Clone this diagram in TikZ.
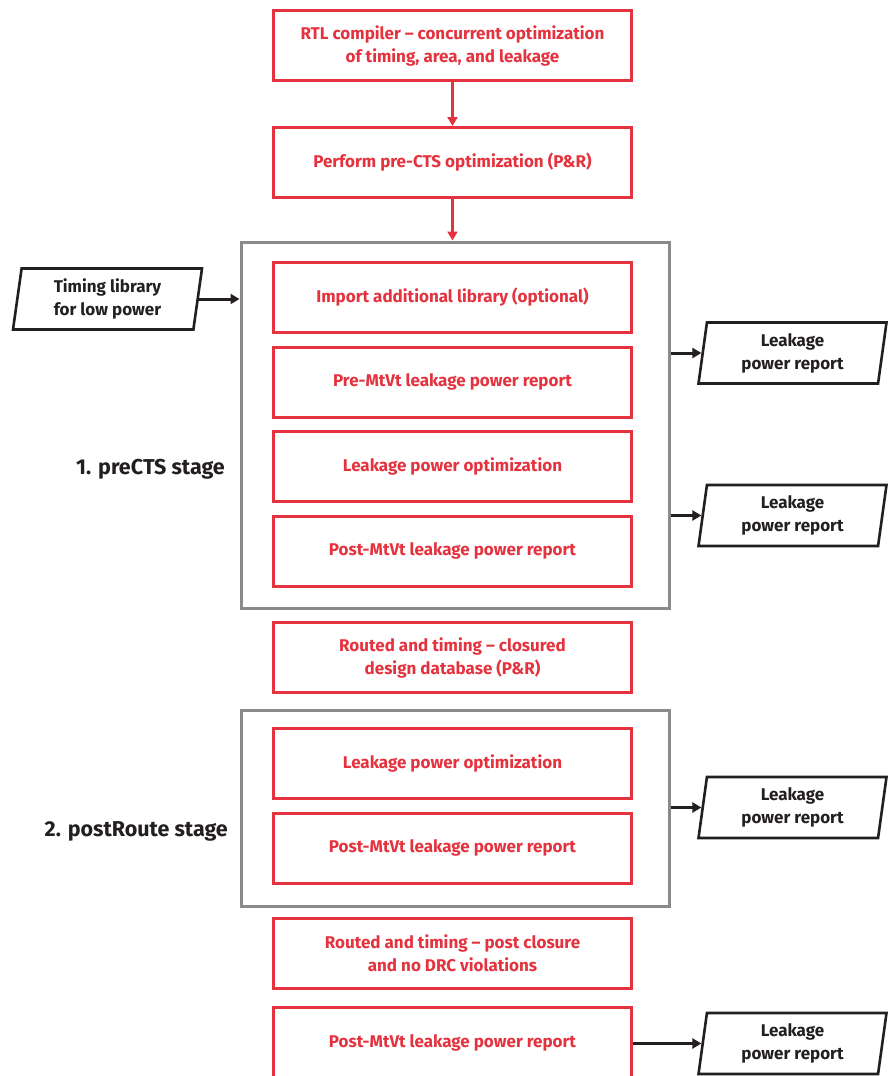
\documentclass[tikz,border=0pt]{standalone}
\usepackage{fontspec}
\setmainfont{Fira Sans}
\usetikzlibrary{arrows.meta,shapes.geometric}
\definecolor{fred}{RGB}{228,50,62}
\definecolor{fgray}{RGB}{138,138,140}
\definecolor{fdark}{RGB}{35,31,32}
\tikzset{
  redbox/.style={draw=fred,line width=3pt,minimum width=358pt,minimum height=70pt,
    text=fred,font=\fontsize{17}{23}\selectfont\bfseries,align=center,inner sep=0pt},
  graybox/.style={draw=fgray,line width=3pt},
  pgram/.style={draw=fdark,line width=2.6pt,shape=trapezium,trapezium left angle=78,
    trapezium right angle=102,trapezium stretches body,minimum width=188pt,minimum height=61pt,
    text=fdark,font=\fontsize{17}{23}\selectfont\bfseries,align=center,inner sep=0pt},
  redarrow/.style={draw=fred,line width=3.2pt,-{Triangle[length=9pt,width=10pt]}},
  blkarrow/.style={draw=fdark,line width=3pt,-{Triangle[length=9pt,width=10pt]}},
  stagelabel/.style={text=fdark,font=\fontsize{21.5}{25}\selectfont\bfseries,anchor=east,inner sep=0pt}
}
\begin{document}
\begin{tikzpicture}[x=1pt,y=-1pt]
\useasboundingbox (0,0) rectangle (891,1076);
% gray stage boxes
\node[graybox,minimum width=428pt,minimum height=366pt,anchor=north west] (g1) at (239.5,240.5) {};
\node[graybox,minimum width=428pt,minimum height=196pt,anchor=north west] (g2) at (239.5,708.5) {};
% red boxes
\node[redbox] (b1) at (452.5,45.5) {RTL compiler -- concurrent optimization\\of timing, area, and leakage};
\node[redbox] (b2) at (452.5,162.5) {Perform pre-CTS optimization (P\&R)};
\node[redbox] (b3) at (452.5,297.5) {Import additional library (optional)};
\node[redbox] (b4) at (452.5,382) {Pre-MtVt leakage power report};
\node[redbox] (b5) at (452.5,466.5) {Leakage power optimization};
\node[redbox] (b6) at (452.5,551) {Post-MtVt leakage power report};
\node[redbox] (b7) at (452.5,657.5) {Routed and timing -- closured\\design database (P\&R)};
\node[redbox] (b8) at (452.5,763) {Leakage power optimization};
\node[redbox] (b9) at (452.5,848) {Post-MtVt leakage power report};
\node[redbox] (b10) at (452.5,953.5) {Routed and timing -- post closure\\and no DRC violations};
\node[redbox] (b11) at (452.5,1042.5) {Post-MtVt leakage power report};
% stage labels
\node[stagelabel] (s1) at (225,469) {1. preCTS stage};
\node[stagelabel] (s2) at (228,831) {2. postRoute stage};
% parallelograms
\node[pgram,minimum width=189pt] (tl) at (107.5,299) {Timing library\\for low power};
\node[pgram] (r1) at (792.5,353) {Leakage\\power report};
\node[pgram] (r2) at (792.5,515.5) {Leakage\\power report};
\node[pgram] (r3) at (792.5,807.5) {Leakage\\power report};
\node[pgram] (r4) at (792.5,1043.5) {Leakage\\power report};
% arrows
\draw[redarrow] (b1.south) -- (b2.north);
\draw[redarrow] (b2.south) -- (b2.south |- g1.north);
\draw[blkarrow] (tl.east) -- (tl.east -| g1.west);
\draw[blkarrow] (r1.west -| g1.east) -- (r1.west);
\draw[blkarrow] (r2.west -| g1.east) -- (r2.west);
\draw[blkarrow] (r3.west -| g2.east) -- (r3.west);
\draw[blkarrow] (r4.west -| b11.east) -- (r4.west);
\end{tikzpicture}
\end{document}
